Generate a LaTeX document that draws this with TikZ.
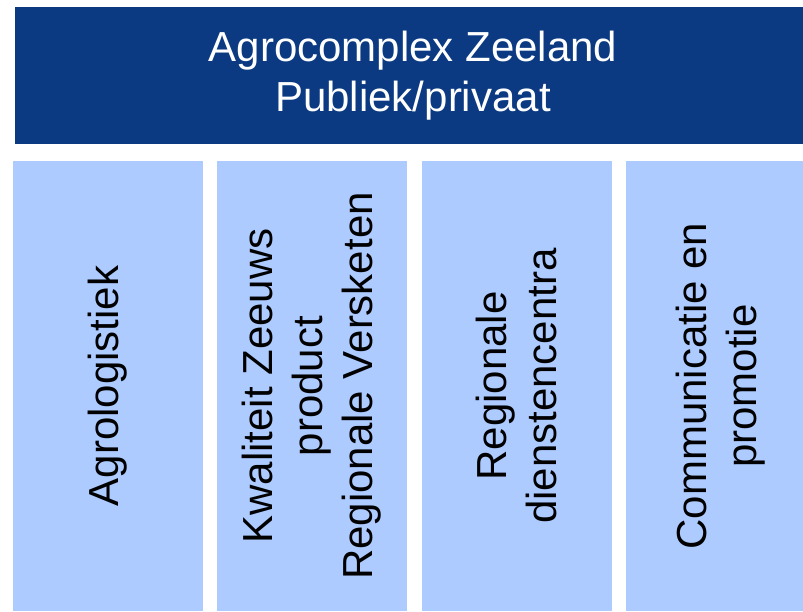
\documentclass[tikz,border=0pt]{standalone}
\usepackage{fontspec}
\setmainfont{Liberation Sans}
\definecolor{donker}{HTML}{0B3A82}
\definecolor{licht}{HTML}{ADCBFF}
\tikzset{
  kop/.style={fill=donker, text=white, minimum width=796pt, minimum height=137pt, align=center, inner sep=0pt},
  kolom/.style={fill=licht, rotate=90, minimum width=450pt, minimum height=190pt, align=center, inner sep=0pt},
}
\begin{document}
\begin{tikzpicture}[x=1pt,y=1pt,font=\fontsize{42}{50}\selectfont]
	\useasboundingbox (0,0) rectangle (803,-611);
		\node (Ag) at (413,-75.5) [kop] {Agrocomplex Zeeland\\Publiek/privaat};
		\node (Al) at (108,-386) [kolom] {Agrologistiek};
		\node (Kw) at (312,-386) [kolom] {Kwaliteit Zeeuws\\product\\Regionale Versketen};
		\node (Rd) at (516.5,-386) [kolom] {Regionale\\dienstencentra};
		\node (Cp) at (721,-386) [kolom] {Communicatie en\\promotie};
	\end{tikzpicture}
\end{document}
